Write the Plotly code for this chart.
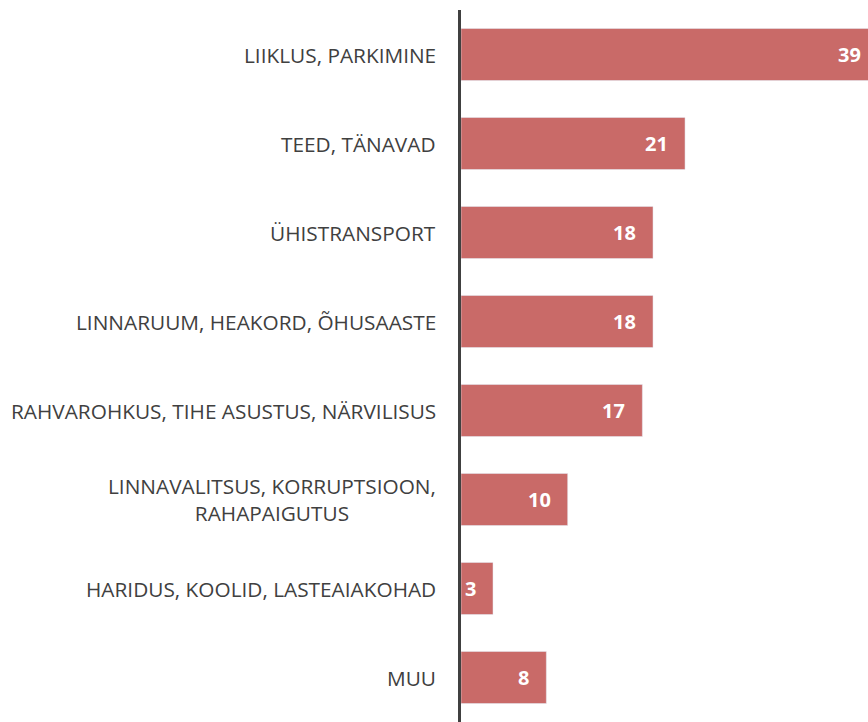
import plotly.graph_objects as go

categories = [
    "LIIKLUS, PARKIMINE",
    "TEED, TÄNAVAD",
    "ÜHISTRANSPORT",
    "LINNARUUM, HEAKORD, ÕHUSAASTE",
    "RAHVAROHKUS, TIHE ASUSTUS, NÄRVILISUS",
    "LINNAVALITSUS, KORRUPTSIOON,<br>RAHAPAIGUTUS",
    "HARIDUS, KOOLID, LASTEAIAKOHAD",
    "MUU",
]
values = [39, 21, 18, 18, 17, 10, 3, 8]

BAR = "#C96A68"
FONT = "Open Sans, Noto Sans, sans-serif"
XMAX = 38.15  # longest bar runs off the right edge in the original

fig = go.Figure(
    go.Bar(
        x=values,
        y=categories,
        orientation="h",
        marker={"color": BAR},
        hoverinfo="x+y",
    )
)

# category labels as annotations so the two-line one is centred
for cat in categories:
    fig.add_annotation(
        x=0, xref="paper", y=cat, yref="y",
        text=cat, showarrow=False,
        xanchor="right", xshift=-23, align="center",
        font={"family": FONT, "size": 20.8, "color": "#404040"},
    )

# value labels inside the bar ends (clipped bar keeps its label at the edge)
for cat, v in zip(categories, values):
    fig.add_annotation(
        x=min(v, XMAX), y=cat, text=f"<b>{v}</b>", showarrow=False,
        xanchor="right", xshift=-15 if v <= XMAX else -5,
        font={"family": FONT, "size": 20, "color": "white"},
    )

fig.update_layout(
    width=868,
    height=722,
    margin={"l": 461, "r": 0, "t": 10, "b": 0},
    paper_bgcolor="white",
    plot_bgcolor="white",
    bargap=0.415,
    showlegend=False,
    xaxis={"range": [0, XMAX], "visible": False, "fixedrange": True},
    yaxis={
        "autorange": "reversed",
        "showticklabels": False,
        "ticks": "",
        "showgrid": False,
        "showline": True,
        "linecolor": "#404040",
        "linewidth": 3,
        "zeroline": False,
    },
)

fig.write_html(
    "out.html",
    config={"displayModeBar": False},
    post_script="document.body.style.margin='0';",
)
